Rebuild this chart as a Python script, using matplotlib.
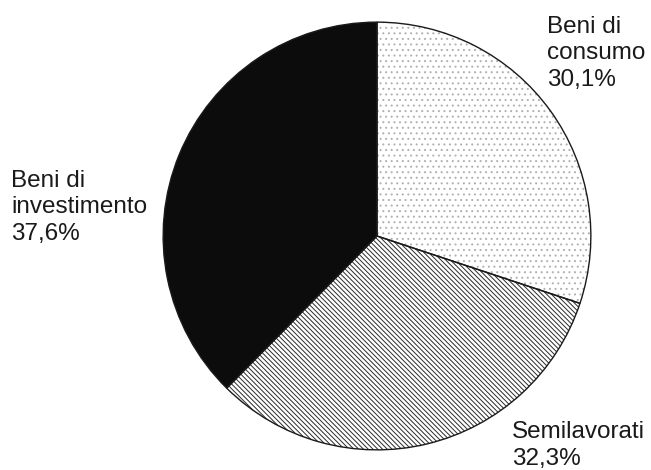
import matplotlib.pyplot as plt

# data
labels = ['Beni di\nconsumo\n30,1%', 'Semilavorati\n32,3%', 'Beni di\ninvestimento\n37,6%']
values = [30.1, 32.3, 37.6]
hatches = ['...', '\\\\\\\\\\\\\\', '']
faces = ['white', 'white', '#0c0c0c']
hatch_cols = ['#b0b0b0', '#2a2a2a', '#0c0c0c']

plt.rcParams['hatch.linewidth'] = 0.7

W, H = 651, 470
fig = plt.figure(figsize=(W / 100, H / 100), dpi=100)
cx, cy, r = 377, 236, 216
ax = fig.add_axes([(cx - r) / W, (H - cy - r) / H, 2 * r / W, 2 * r / H])

wedges, _ = ax.pie(values, startangle=90, counterclock=False, radius=1,
                   colors=faces, wedgeprops=dict(linewidth=0))
for w, h, hc in zip(wedges, hatches, hatch_cols):
    w.set_hatch(h)
    w.set_edgecolor(hc)
    w.set_linewidth(0)

# outline on top
outline, _ = ax.pie(values, startangle=90, counterclock=False, radius=1,
                    colors=['none'] * 3,
                    wedgeprops=dict(linewidth=1.0, edgecolor='#1a1a1a', fill=False))
ax.set_xlim(-1.01, 1.01)
ax.set_ylim(-1.01, 1.01)
ax.axis('off')

font = dict(fontsize=17.5, family='Liberation Sans', color='#1a1a1a',
            linespacing=1.27, va='baseline', ha='left')
fig.text(547 / W, 1 - 86 / H, labels[0], **font)
fig.text(512 / W, 1 - 465 / H, labels[1], **font)
fig.text(11 / W, 1 - 240 / H, labels[2], **font)

plt.savefig('out.png', dpi=100)
